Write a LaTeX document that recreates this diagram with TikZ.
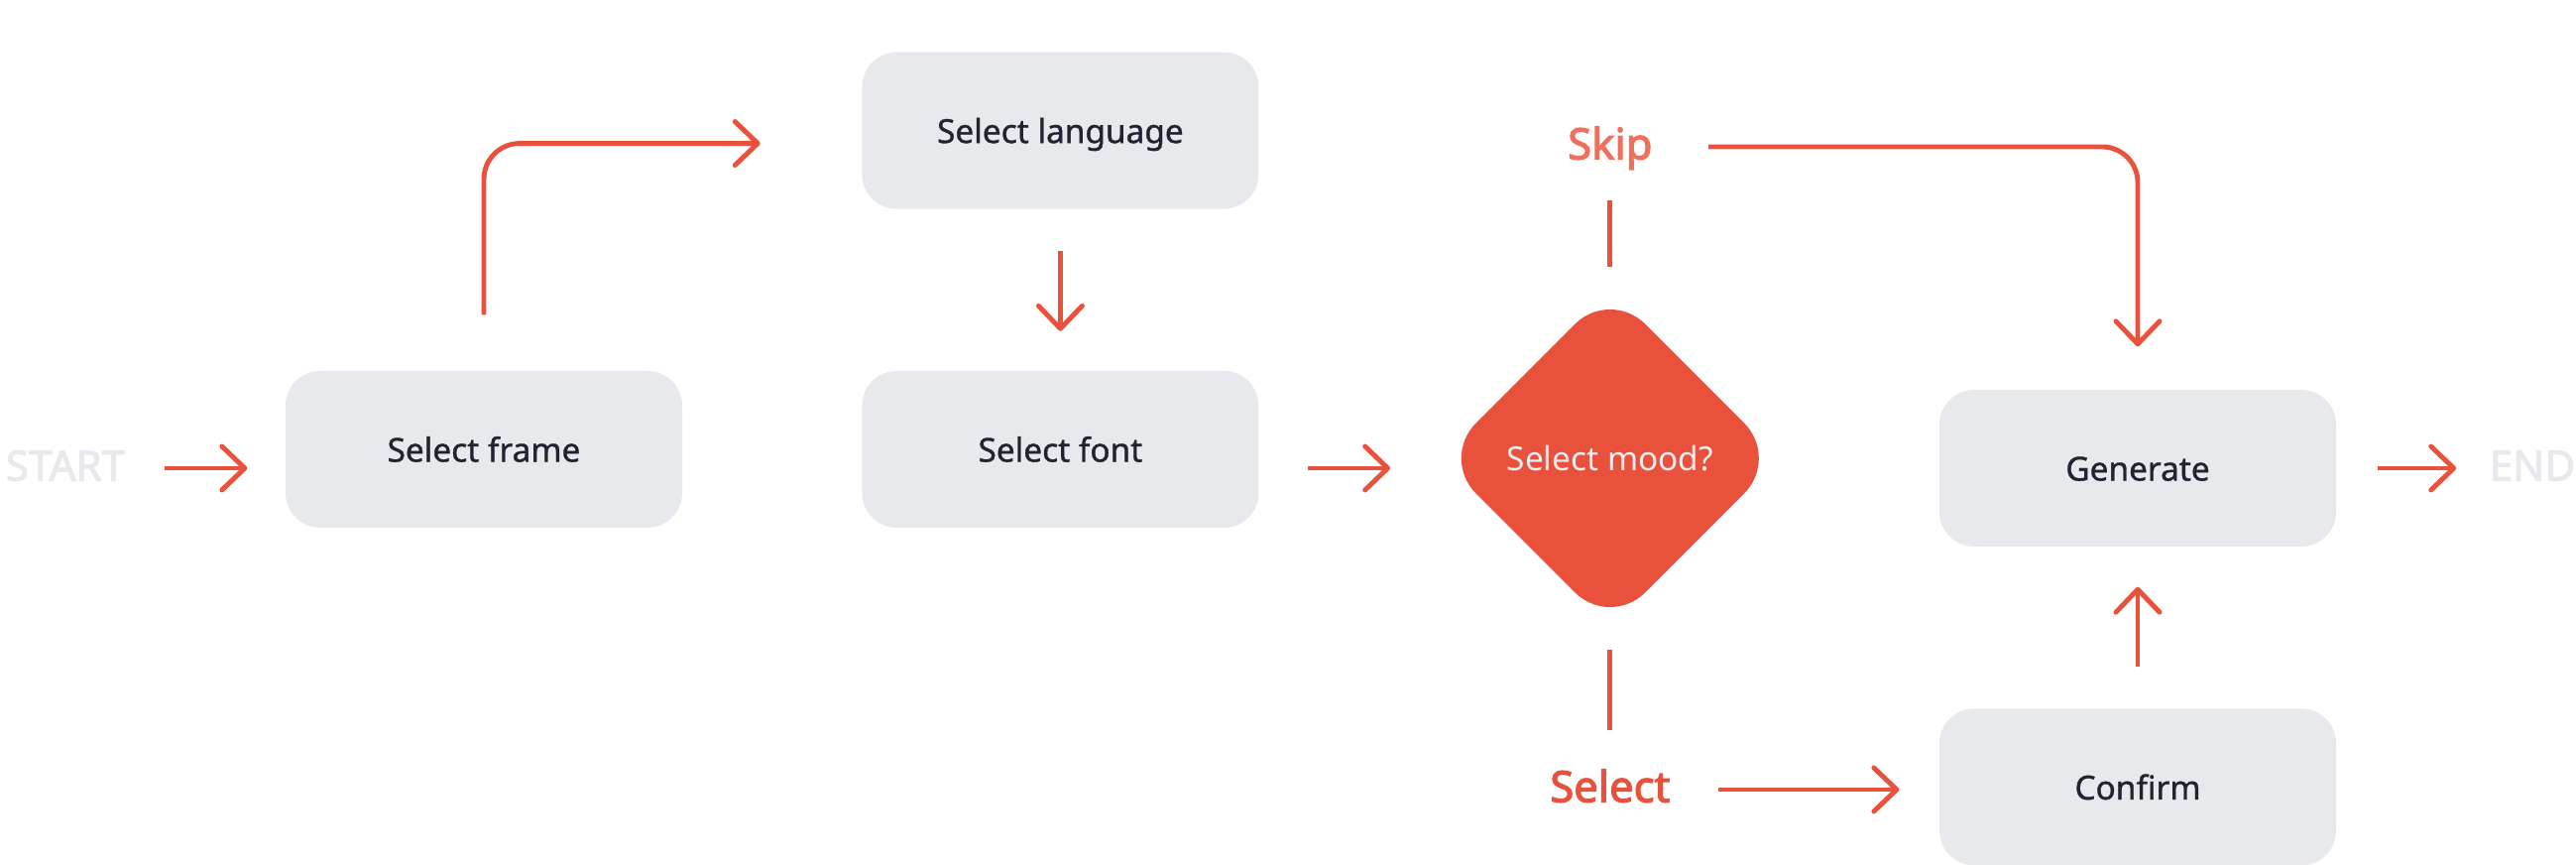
\documentclass[tikz,border=0pt]{standalone}
\usepackage{fontspec}
\setmainfont{Noto Sans}[AutoFakeBold=2.6]
\newfontfamily\mediumfont{Noto Sans}[FakeBold=1]
\usepackage{xcolor}
\definecolor{flowRed}{HTML}{E8523C}
\definecolor{skipRed}{HTML}{EF705C}
\definecolor{boxBg}{HTML}{E8E9ED}
\definecolor{textDark}{HTML}{1F2430}
\definecolor{moodText}{HTML}{EDEDF0}
\usepackage{tikz}
\usetikzlibrary{positioning,calc,arrows.meta,shapes.geometric}
\tikzset{%
  capText/.style={%
    text height=0.714em,
    text depth=0pt
  },
  stepBox/.style={%
    rectangle,
    rounded corners=0.35cm,
    fill=boxBg,
    minimum width=4cm,
    minimum height=1.58cm,
    text=textDark,
    capText,
    font=\mediumfont\fontsize{9.5}{11}\selectfont,
    align=center
  },
  decisionNode/.style={%
    diamond,
    rounded corners=0.5cm,
    fill=flowRed,
    minimum width=3.42cm,
    minimum height=3.42cm,
    inner sep=0pt,
    text=moodText,
    capText,
    font=\fontsize{9.5}{11}\selectfont
  },
  endLabel/.style={%
    inner sep=0pt,
    text=boxBg,
    capText,
    font=\bfseries\fontsize{12}{14}\selectfont
  },
  branchLabel/.style={%
    inner sep=0pt,
    capText,
    font=\bfseries\fontsize{12.4}{14}\selectfont
  },
  flowLine/.style={%
    line width=1.4pt,
    color=flowRed
  },
  arrowLine/.style={%
    flowLine,
    -{Straight Barb[length=0.23cm,width=0.44cm,round]}
  }
}

\begin{document}
\begin{tikzpicture}
  \useasboundingbox (0,0) rectangle (25.98,8.72);

  \node[endLabel] (start) at (0.66,4.00) {START};
  \node[stepBox] (frame) at (4.88,4.19) {Select frame};
  \node[stepBox, right=1.8cm of frame] (font) {Select font};
  \node[stepBox, above=1.62cm of font] (lang) {Select language};
  \node[decisionNode, right=1.82cm of font, yshift=-0.09cm] (mood) {Select mood?};
  \node[branchLabel, text=skipRed] (skip) at (mood.center |- 0,7.24) {Skip};
  \node[branchLabel, text=flowRed] (sel) at (mood.center |- 0,0.76) {Select};
  \node[stepBox] (gen) at (21.56,4.00) {Generate};
  \node[stepBox, below=1.62cm of gen] (conf) {Confirm};
  \node[endLabel] (end) at (25.54,4.00) {END};

  \draw[arrowLine, shorten <=0.39cm, shorten >=0.38cm] (start.east) -- (start.east -| frame.west);
  \draw[arrowLine, rounded corners=0.36cm, shorten <=0.56cm, shorten >=1.02cm] (frame.north) |- ([yshift=-0.13cm]lang.west);
  \draw[arrowLine, shorten <=0.415cm, shorten >=0.395cm] (lang) -- (font);
  \draw[arrowLine, shorten <=0.49cm, shorten >=0.5cm] (font.east |- gen) -- (mood.west |- gen);

  % branches of the decision
  \draw[flowLine, shorten <=0.21cm, shorten >=0.54cm] (mood.north) -- (skip.center);
  \draw[arrowLine, rounded corners=0.36cm, shorten <=0.56cm, shorten >=0.43cm] (skip.east) -| (gen.north);
  \draw[flowLine, shorten <=0.215cm, shorten >=0.6cm] (mood.south) -- (sel.center);
  \draw[arrowLine, shorten <=0.48cm, shorten >=0.4cm] (sel.east) -- (sel.east -| conf.west);
  \draw[arrowLine, shorten <=0.415cm, shorten >=0.4cm] (conf) -- (gen);
  \draw[arrowLine, shorten <=0.41cm, shorten >=0.33cm] (gen.east) -- (gen.east -| end.west);
\end{tikzpicture}
\end{document}
